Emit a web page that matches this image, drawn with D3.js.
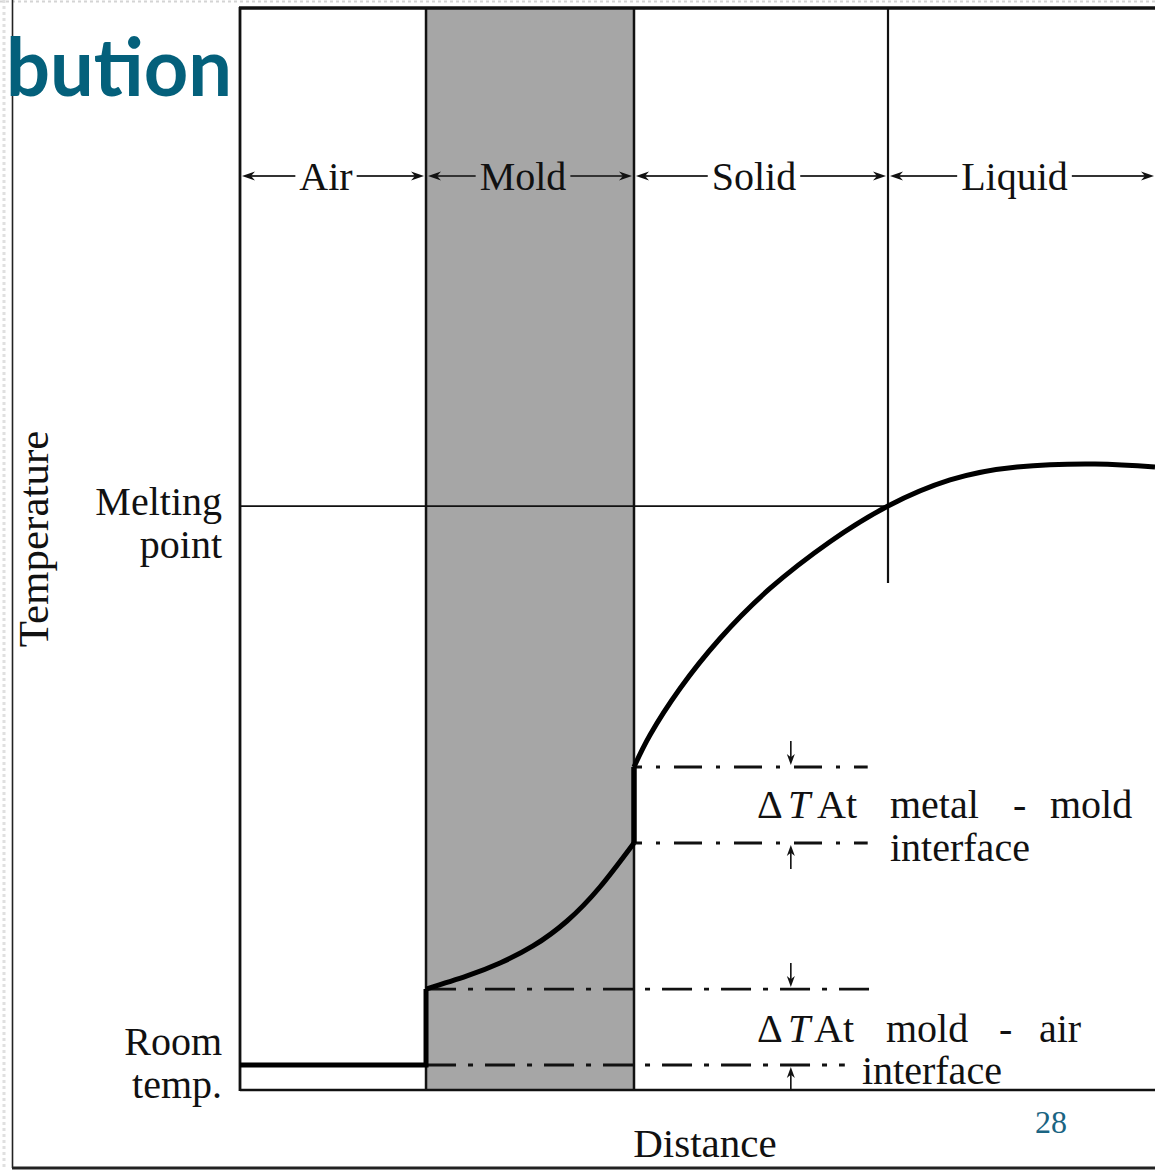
<!DOCTYPE html>
<html><head><meta charset="utf-8">
<script src="https://cdn.jsdelivr.net/npm/d3@7"></script>
<style>body{margin:0;background:#fff}svg{display:block}</style>
</head><body><svg id="c" width="1155" height="1170"></svg>
<script>
// ---- data ----
const regions = ["Air", "Mold", "Solid", "Liquid"];
const regionBounds = [0, 20.33, 43.06, 70.82, 100];   // distance units
const meltingPoint = 53.97;                           // temperature units
const roomTemp = 2.31;
const moldAirTemps = [2.31, 9.33];
const metalMoldTemps = [22.83, 29.85];
const moldCurve = [[20.33, 9.33], [24.81, 10.54], [28.42, 11.74], [32.02, 13.31], [35.74, 15.62], [39.34, 18.76], [43.06, 22.83]];
const metalCurve = [[43.06, 29.85], [44.81, 32.81], [48.09, 37.11], [52.46, 41.73], [57.92, 46.35], [64.48, 50.67], [70.82, 53.97], [77.60, 56.38], [84.92, 57.58], [93.44, 57.86], [100, 57.58]];
const yLabels = [["Melting", "point"], ["Room", "temp."]];
const yLabelValues = [meltingPoint, roomTemp];
const deltaMetalMold = ["\u0394", "T", "At", "metal", "-", "mold"];
const deltaMoldAir = ["\u0394", "T", "At", "mold", "-", "air"];
const interfaceLabel = "interface";
const xTitle = "Distance";
const yTitle = "Temperature";
const slideTitle = "bution";
const pageNumber = "28";

// ---- scales ----
const x = d3.scaleLinear().domain([0, 100]).range([240, 1155]);
const y = d3.scaleLinear().domain([0, 100]).range([1090, 8]);
const svg = d3.select("#c");
const serif = "'Liberation Serif', 'Times New Roman', serif";

// arrowhead: tip at (tx,ty), pointing in direction (dx,dy) unit
function arrowHead(tx, ty, dx, dy, len, half) {
  const px = -dy, py = dx;
  const bx = tx - dx * len, by = ty - dy * len;
  const nx = tx - dx * len * 0.7, ny = ty - dy * len * 0.7;
  svg.append("path")
    .attr("d", `M${tx},${ty} L${bx + px * half},${by + py * half} L${nx},${ny} L${bx - px * half},${by - py * half} Z`)
    .attr("fill", "#111");
}

// slide frame remnants
svg.append("line").attr("x1", 0).attr("x2", 1155).attr("y1", 1.5).attr("y2", 1.5)
  .attr("stroke", "#d4d4d4").attr("stroke-width", 2).attr("stroke-dasharray", "3,3");
svg.append("line").attr("x1", 4).attr("x2", 4).attr("y1", 0).attr("y2", 1170)
  .attr("stroke", "#e0e0e0").attr("stroke-width", 3).attr("stroke-dasharray", "3,3");
svg.append("line").attr("x1", 12.5).attr("x2", 12.5).attr("y1", 0).attr("y2", 1168)
  .attr("stroke", "#222").attr("stroke-width", 1.6);
svg.append("line").attr("x1", 12).attr("x2", 1155).attr("y1", 1168).attr("y2", 1168)
  .attr("stroke", "#222").attr("stroke-width", 3);

// mold fill
svg.append("rect").attr("x", x(regionBounds[1])).attr("y", y(100))
  .attr("width", x(regionBounds[2]) - x(regionBounds[1])).attr("height", y(0) - y(100))
  .attr("fill", "#a6a6a6");

// chart box
svg.append("line").attr("x1", x(0)).attr("x2", x(0)).attr("y1", y(100) - 1).attr("y2", y(0) + 1)
  .attr("stroke", "#111").attr("stroke-width", 2.8);
svg.append("line").attr("x1", x(0) - 1).attr("x2", x(100)).attr("y1", y(100)).attr("y2", y(100))
  .attr("stroke", "#111").attr("stroke-width", 3.5);
svg.append("line").attr("x1", x(0)).attr("x2", x(100)).attr("y1", y(0)).attr("y2", y(0))
  .attr("stroke", "#111").attr("stroke-width", 2.4);
// region dividers
[regionBounds[1], regionBounds[2]].forEach(b => {
  svg.append("line").attr("x1", x(b)).attr("x2", x(b)).attr("y1", y(100)).attr("y2", y(0))
    .attr("stroke", "#111").attr("stroke-width", 2.5);
});
svg.append("line").attr("x1", x(regionBounds[3])).attr("x2", x(regionBounds[3]))
  .attr("y1", y(100)).attr("y2", 583).attr("stroke", "#111").attr("stroke-width", 2.2);
// melting point line
svg.append("line").attr("x1", x(0)).attr("x2", x(regionBounds[3]))
  .attr("y1", y(meltingPoint)).attr("y2", y(meltingPoint)).attr("stroke", "#111").attr("stroke-width", 1.8);

// region labels with arrows
const labY = 176;
regions.forEach((r, i) => {
  const a = x(regionBounds[i]), b = x(regionBounds[i + 1]);
  const cx = (a + b) / 2 - 7;
  const t = svg.append("text").attr("x", cx).attr("y", labY + 14)
    .attr("text-anchor", "middle").attr("font-family", serif).attr("font-size", 40).attr("fill", "#111").text(r);
  const w = t.node().getComputedTextLength();
  const la = a + 2, lb = b - (i === 3 ? 1 : 2);
  svg.append("line").attr("x1", cx - w / 2 - 4).attr("x2", la + 6).attr("y1", labY).attr("y2", labY)
    .attr("stroke", "#333").attr("stroke-width", 1.8);
  svg.append("line").attr("x1", cx + w / 2 + 4).attr("x2", lb - 6).attr("y1", labY).attr("y2", labY)
    .attr("stroke", "#333").attr("stroke-width", 1.8);
  arrowHead(la, labY, -1, 0, 13, 4.5);
  arrowHead(lb, labY, 1, 0, 13, 4.5);
});

// dash-dot reference lines
const dd = [
  { t: metalMoldTemps[1], x0: regionBounds[2], x1: 68.6, da: "28,14,4,14", off: 20 },
  { t: metalMoldTemps[0], x0: regionBounds[2], x1: 68.6, da: "28,14,4,14", off: 20 },
  { t: moldAirTemps[1], x0: regionBounds[1], x1: 69.8, da: "30,12,5,12", off: 0 },
  { t: moldAirTemps[0], x0: regionBounds[1], x1: 66.1, da: "30,12,5,12", off: 0 }
];
dd.forEach(d => {
  svg.append("line").attr("x1", x(d.x0)).attr("x2", x(d.x1)).attr("y1", y(d.t)).attr("y2", y(d.t))
    .attr("stroke", "#111").attr("stroke-width", 2.8).attr("stroke-dasharray", d.da).attr("stroke-dashoffset", d.off);
});
// small delta arrows
const ax = x(60.2);
[[metalMoldTemps[1], -1], [metalMoldTemps[0], 1], [moldAirTemps[1], -1], [moldAirTemps[0], 1]].forEach(([t, dir]) => {
  const tip = y(t) + dir * 2;
  svg.append("line").attr("x1", ax).attr("x2", ax).attr("y1", y(t) + dir * 26).attr("y2", tip + dir * 6)
    .attr("stroke", "#111").attr("stroke-width", 1.6);
  arrowHead(ax, tip, 0, -dir, 11, 4);
});

// temperature profile
const lin = d3.line().x(d => x(d[0])).y(d => y(d[1]));
const smooth = d3.line().x(d => x(d[0])).y(d => y(d[1])).curve(d3.curveNatural);
const prof = svg.append("g").attr("fill", "none").attr("stroke", "#000").attr("stroke-width", 5)
  .attr("stroke-linejoin", "round");
prof.append("path").attr("d", lin([[0, roomTemp], [regionBounds[1], roomTemp], [regionBounds[1], moldAirTemps[1]]]))
  .attr("stroke-linejoin", "miter");
prof.append("path").attr("d", smooth(moldCurve));
prof.append("path").attr("d", lin([[regionBounds[2], metalMoldTemps[0]], [regionBounds[2], metalMoldTemps[1]]]))
  .attr("stroke-width", 5.5);
prof.append("path").attr("d", smooth(metalCurve));

// delta annotations
function deltaText(parts, xs, baseline) {
  parts.forEach((p, i) => {
    svg.append("text").attr("x", xs[i]).attr("y", baseline).attr("font-family", serif)
      .attr("font-size", 40).attr("fill", "#111").attr("font-style", i === 1 ? "italic" : "normal").text(p);
  });
}
deltaText(deltaMetalMold, [757, 788, 817, 890, 1013, 1050], 818);
svg.append("text").attr("x", 890).attr("y", 861).attr("font-family", serif).attr("font-size", 40).attr("fill", "#111").text(interfaceLabel);
deltaText(deltaMoldAir, [757, 788, 814, 886, 999, 1039], 1042);
svg.append("text").attr("x", 862).attr("y", 1084).attr("font-family", serif).attr("font-size", 40).attr("fill", "#111").text(interfaceLabel);

// y labels
yLabels.forEach((lines, i) => {
  const base = y(yLabelValues[i]);
  const off = i === 0 ? [9, 52] : [-10, 33];
  lines.forEach((l, j) => {
    svg.append("text").attr("x", 222).attr("y", base + off[j]).attr("text-anchor", "end")
      .attr("font-family", serif).attr("font-size", 40).attr("fill", "#111").text(l);
  });
});

// axis titles
svg.append("text").attr("transform", "translate(48,539) rotate(-90)").attr("text-anchor", "middle")
  .attr("font-family", serif).attr("font-size", 43).attr("fill", "#111").text(yTitle);
svg.append("text").attr("x", 705).attr("y", 1157).attr("text-anchor", "middle")
  .attr("font-family", serif).attr("font-size", 41).attr("fill", "#111").text(xTitle);

// slide remnants
svg.append("text").attr("x", 6).attr("y", 96).attr("font-family", "Lato, 'Open Sans', sans-serif")
  .attr("font-weight", 700).attr("font-size", 80).attr("fill", "#04607b")
  .attr("textLength", 226).attr("lengthAdjust", "spacingAndGlyphs").text(slideTitle);
svg.append("text").attr("x", 1035).attr("y", 1133).attr("font-family", serif)
  .attr("font-size", 32).attr("fill", "#1a6482").text(pageNumber);
</script></body></html>
